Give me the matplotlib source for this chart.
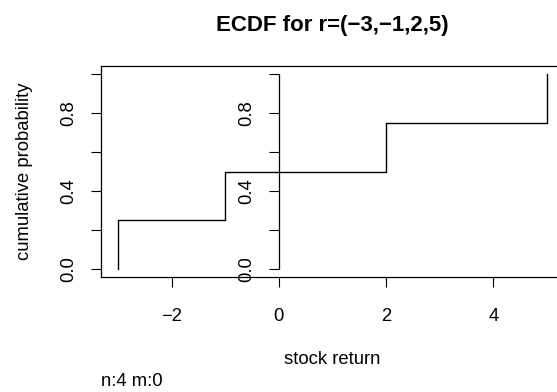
import matplotlib
matplotlib.use("Agg")
import matplotlib.pyplot as plt
import numpy as np

# observed returns and their empirical cumulative probabilities
returns = [-3, -1, 2, 5]
cum_prob = [0.25, 0.5, 0.75, 1.0]
x_ticks = [-2, 0, 2, 4]
y_ticks = [0.0, 0.2, 0.4, 0.6, 0.8, 1.0]
y_tick_labels = ["0.0", "", "0.4", "", "0.8", ""]

plt.rcParams["font.family"] = ["Liberation Sans", "DejaVu Sans"]
plt.rcParams["font.size"] = 13.3

W, H = 557, 392
fig = plt.figure(figsize=(W / 100, H / 100), dpi=100)

# plot region in pixels (right edge runs past the picture, as in the original)
left, right, top, bottom = 101, 564, 66, 277
ax = fig.add_axes([left / W, 1 - bottom / H, (right - left) / W, (bottom - top) / H])

# step line: start at 0, then climb at each observation
xs = [returns[0]] + returns
ys = [0.0] + cum_prob
ax.plot(xs, ys, drawstyle="steps-post", color="black", lw=1.0)

# R style 4% padding around data range
pad = 0.04 * (max(returns) - min(returns))
xlo, xhi = min(returns) - pad, max(returns) + pad
ax.set_xlim(xlo, xhi)
ax.set_ylim(-0.04, 1.04)

for s in ax.spines.values():
    s.set_linewidth(0.9)

ax.set_xticks(x_ticks)
ax.set_xticklabels(["\u2212" + str(-t) if t < 0 else str(t) for t in x_ticks])
ax.set_yticks(y_ticks)
ax.set_yticklabels(y_tick_labels, rotation=90, va="center")
ax.tick_params(direction="out", length=7.2, width=0.8)
ax.tick_params(axis="x", pad=15)
ax.tick_params(axis="y", pad=10)

# second y axis drawn at x = 0
sec = ax.secondary_yaxis((0 - xlo) / (xhi - xlo))
sec.spines["left"].set_bounds(0, 1)
sec.spines["left"].set_linewidth(0.9)
sec.set_yticks(y_ticks)
sec.set_yticklabels(y_tick_labels, rotation=90, va="center")
sec.tick_params(direction="out", length=7.2, width=0.8, pad=10)

ax.set_title("ECDF for r=(\u22123,\u22121,2,5)", fontsize=16, fontweight="bold", pad=25)
ax.set_xlabel("stock return", labelpad=19)
ax.set_ylabel("cumulative probability")
ax.yaxis.set_label_coords((25 - left) / (right - left), 0.5)
ax.yaxis.label.set_va("center")

fig.text(left / W, 1 - 381 / H, "n:4 m:0", ha="left", va="center")

fig.savefig("out.png", dpi=100)
